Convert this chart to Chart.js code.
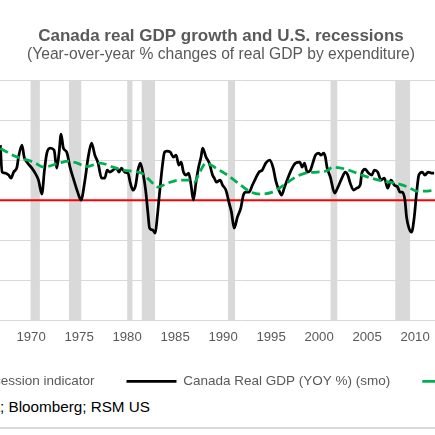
<!DOCTYPE html>
<html lang="en">
<head>
<meta charset="UTF-8">
<title>Canada real GDP growth and U.S. recessions</title>
<script src="https://cdn.jsdelivr.net/npm/chart.js"></script>
<style>
  html, body { margin: 0; padding: 0; background: #fff; overflow: hidden; }
  #marco { position: relative; width: 435px; height: 435px; overflow: hidden; background: #fff; }
  #grafica { position: absolute; left: -144px; top: 0; }
  #fuente { position: absolute; right: 285px; top: 398px; line-height: 18px; white-space: nowrap;
            font: 15.25px "Liberation Sans", Arial, sans-serif; color: #000; }
  #borde { position: absolute; left: 0; top: 427px; width: 435px; height: 2px; background: #d9d9d9; }
</style>
</head>
<body>
<div id="marco">
  <canvas id="grafica" width="730" height="398"></canvas>
  <div id="fuente">Source: Statistics Canada; Bloomberg; RSM US</div>
  <div id="borde"></div>
</div>
<script>
// Canada real GDP, year-over-year %
const gdpYears = [
  1966.80, 1966.97, 1967.32, 1967.66, 1967.91, 1968.18, 1968.53, 1968.69, 1969.05, 1969.28,
  1969.56, 1970.08, 1970.42, 1970.77, 1971.12, 1971.39, 1971.64, 1971.98, 1972.39, 1972.67,
  1972.91, 1973.12, 1973.36, 1973.71, 1974.05, 1974.39, 1974.85, 1975.19, 1975.61, 1975.95,
  1976.30, 1976.64, 1976.98, 1977.34, 1977.68, 1977.92, 1978.20, 1978.54, 1978.89, 1979.16,
  1979.41, 1979.75, 1980.09, 1980.34, 1980.61, 1980.89, 1981.13, 1981.38, 1981.65, 1981.93,
  1982.17, 1982.34, 1982.68, 1982.93, 1983.14, 1983.38, 1983.66, 1983.90, 1984.13, 1984.49,
  1984.83, 1985.11, 1985.38, 1985.63, 1985.87, 1986.15, 1986.41, 1986.66, 1986.90, 1987.18,
  1987.45, 1987.70, 1987.87, 1988.22, 1988.56, 1988.90, 1989.08, 1989.30, 1989.70, 1989.94,
  1990.29, 1990.63, 1990.87, 1991.15, 1991.49, 1991.84, 1992.11, 1992.36, 1992.70, 1993.05,
  1993.40, 1993.74, 1994.08, 1994.44, 1994.85, 1995.22, 1995.47, 1995.81, 1996.09, 1996.40,
  1996.75, 1997.09, 1997.54, 1997.99, 1998.23, 1998.48, 1998.75, 1999.10, 1999.34, 1999.62,
  1999.96, 2000.20, 2000.48, 2000.65, 2000.82, 2001.17, 2001.62, 2001.96, 2002.37, 2002.73,
  2002.99, 2003.24, 2003.59, 2003.93, 2004.28, 2004.45, 2004.80, 2005.14, 2005.48, 2005.76,
  2006.10, 2006.46, 2006.80, 2007.14, 2007.49, 2007.83, 2008.18, 2008.42, 2008.66, 2008.94,
  2009.11, 2009.36, 2009.63, 2009.91, 2010.15, 2010.39, 2010.74, 2011.02, 2011.36, 2011.70,
  2011.98
];
const gdpValues = [
  5.5, 2.8, 2.7, 2.5, 2.2, 2.8, 3.3, 4.3, 5.5, 4.3,
  3.8, 3.2, 2.7, 2.0, 0.6, 3.0, 4.7, 5.2, 5.0, 3.2,
  4.7, 6.6, 5.2, 4.8, 3.3, 2.2, 0.8, 0.0, 2.0, 4.3,
  5.7, 4.5, 3.7, 2.2, 2.2, 3.0, 2.8, 3.0, 3.2, 2.8,
  3.2, 2.8, 2.7, 1.7, 1.0, 1.5, 3.0, 3.7, 2.7, 1.0,
  -1.3, -2.8, -3.0, -3.3, -1.7, 0.7, 3.3, 4.8, 4.9, 4.8,
  4.3, 4.5, 3.5, 3.8, 2.8, 2.5, 2.7, 1.5, 0.0, 1.8,
  3.3, 4.3, 5.2, 4.3, 3.7, 2.5, 2.2, 1.8, 2.0, 1.5,
  1.0, -0.3, -1.2, -2.8, -1.7, -0.8, 0.5, 0.8, 0.8, 1.5,
  2.2, 2.8, 3.0, 3.7, 4.0, 3.2, 2.0, 1.0, 0.5, 1.3,
  2.2, 3.0, 3.7, 3.8, 3.3, 3.7, 2.8, 3.0, 3.7, 4.5,
  4.7, 4.5, 4.7, 4.3, 3.3, 2.3, 0.7, 1.3, 2.2, 2.8,
  2.5, 1.7, 1.0, 1.2, 1.5, 2.7, 3.1, 2.7, 2.5, 3.0,
  2.8, 2.0, 2.2, 1.2, 2.0, 1.5, 1.3, 0.8, 0.8, 0.0,
  -1.7, -2.8, -3.2, -1.7, 0.7, 2.5, 2.8, 2.5, 2.8, 2.7,
  2.7
];

// smoothed trend (green dashed)
const trendYears = [
  1966.80, 1968.53, 1970.25, 1971.33, 1972.93, 1973.86, 1974.79, 1975.83, 1977.16, 1978.54,
  1979.54, 1981.48, 1982.34, 1983.20, 1984.24, 1985.45, 1986.49, 1987.01, 1987.52, 1988.22,
  1989.25, 1990.11, 1990.46, 1991.15, 1991.84, 1992.88, 1993.92, 1995.12, 1996.33, 1997.37,
  1998.58, 1999.78, 2000.99, 2001.34, 2002.73, 2004.45, 2006.18, 2007.91, 2009.29, 2010.15,
  2011.02, 2011.98
];
const trendValues = [
  5.15, 4.3, 3.8, 3.3, 3.7, 3.9, 3.7, 3.35, 3.7, 3.3,
  3.0, 2.7, 2.0, 1.3, 1.7, 2.0, 2.0, 1.8, 2.7, 3.7,
  3.2, 2.7, 2.5, 2.0, 1.5, 0.8, 0.6, 0.8, 1.5, 2.2,
  2.7, 2.8, 3.0, 3.3, 3.1, 2.5, 2.0, 1.7, 1.3, 0.9,
  0.9, 1.0
];

// U.S. recessions (start / end, decimal years)
const recessionStart = [1969.92, 1973.92, 1980.00, 1981.50, 1990.50, 2001.17, 2007.92];
const recessionEnd   = [1970.92, 1975.25, 1980.58, 1982.92, 1991.25, 2001.92, 2009.50];

const tickYears = [1970, 1975, 1980, 1985, 1990, 1995, 2000, 2005, 2010];
const yTicks = [-12, -8, -4, 0, 4, 8, 12];
const xMin = 1956, xMax = 2027.8;

const gdpData = gdpYears.map((a, i) => ({x: a, y: gdpValues[i]}));
const trendData = trendYears.map((a, i) => ({x: a, y: trendValues[i]}));
const yTop = yTicks[yTicks.length - 1];
const recessionData = [];
recessionStart.forEach((s, i) => {
    recessionData.push({x: s, y: yTop}, {x: recessionEnd[i], y: yTop}, {x: recessionEnd[i], y: null});
});

Chart.defaults.font.family = '"Liberation Sans", Arial, sans-serif';
Chart.defaults.color = '#595959';

new Chart(document.getElementById('grafica'), {
    type: 'line',
    data: {
        datasets: [{
            label: 'U.S. Recession indicator',
            data: recessionData,
            backgroundColor: '#d9d9d9',
            borderColor: 'rgba(0,0,0,0)',
            borderWidth: 0,
            fill: 'start',
            pointRadius: 0,
            pointStyle: 'rect',
            spanGaps: false,
            order: 4
        }, {
            label: '',
            data: [{x: xMin, y: 0}, {x: xMax, y: 0}],
            borderColor: '#ff0000',
            borderWidth: 2,
            pointRadius: 0,
            order: 3
        }, {
            label: 'Canada Real GDP (YOY %) (smo)',
            data: gdpData,
            borderColor: '#000000',
            backgroundColor: '#000000',
            borderWidth: 2.75,
            pointRadius: 0,
            pointStyle: 'line',
            cubicInterpolationMode: 'monotone',
            order: 2
        }, {
            label: 'Trend (smo)',
            data: trendData,
            borderColor: '#00b050',
            backgroundColor: '#00b050',
            borderWidth: 2.75,
            borderDash: [8.5, 4.5],
            pointRadius: 0,
            pointStyle: 'line',
            cubicInterpolationMode: 'monotone',
            order: 1
        }]
    },
    options: {
        responsive: false,
        animation: false,
        events: [],
        layout: { padding: 0 },
        scales: {
            x: {
                type: 'linear',
                min: xMin,
                max: xMax,
                afterBuildTicks: s => { s.ticks = tickYears.map(v => ({value: v})); },
                afterFit: s => { s.height = 22.25; },
                grid: { display: false, drawTicks: false },
                border: { display: false },
                ticks: {
                    color: '#595959',
                    font: { size: 13.2, lineHeight: 0.84 },
                    padding: 11.15,
                    maxRotation: 0,
                    autoSkip: false,
                    callback: v => String(v)
                }
            },
            y: {
                min: yTicks[0],
                max: yTop,
                afterBuildTicks: s => { s.ticks = yTicks.map(v => ({value: v})); },
                afterFit: s => { s.width = 40.7; },
                grid: { color: '#d9d9d9', lineWidth: 1, drawTicks: false },
                border: { display: false },
                ticks: { color: '#595959', font: { size: 13 }, padding: 8 }
            }
        },
        plugins: {
            title: {
                display: true,
                text: 'Canada real GDP growth and U.S. recessions',
                color: '#595959',
                font: { size: 17, weight: 'bold', lineHeight: 1 },
                padding: { top: 28.2, bottom: 0 }
            },
            subtitle: {
                display: true,
                text: '(Year-over-year % changes of real GDP by expenditure)',
                color: '#595959',
                font: { size: 15.65, lineHeight: 1 },
                padding: { top: 1.275, bottom: 17.875 }
            },
            legend: {
                position: 'bottom',
                align: 'center',
                labels: {
                    usePointStyle: true,
                    pointStyleWidth: 50,
                    boxHeight: 13.5,
                    padding: 32,
                    color: '#595959',
                    font: { size: 13.5 },
                    filter: item => item.datasetIndex !== 1,
                    sort: (a, b) => a.datasetIndex - b.datasetIndex
                }
            },
            tooltip: { enabled: false }
        }
    }
});
</script>
</body>
</html>
